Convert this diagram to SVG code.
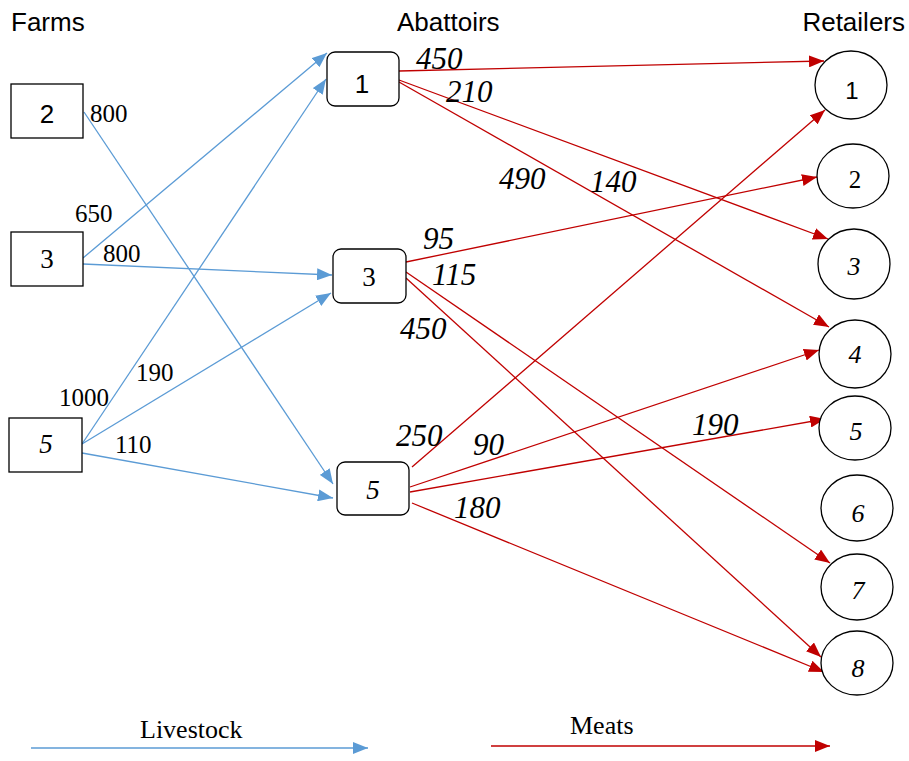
<svg xmlns="http://www.w3.org/2000/svg" width="909" height="761" viewBox="0 0 909 761">
<style>
.bg{fill:#fff}
.box{fill:#fff;stroke:#000;stroke-width:1.3}
.title{font-family:"Liberation Sans",Arial,sans-serif;font-size:26px;fill:#000}
.ns{font-family:"Liberation Sans",Arial,sans-serif;font-size:26px;fill:#000;text-anchor:middle}
.nr{font-family:"Liberation Serif","Times New Roman",serif;font-size:27px;fill:#000;text-anchor:middle}
.ni{font-family:"Liberation Serif","Times New Roman",serif;font-size:27px;font-style:italic;fill:#000;text-anchor:middle}
.rs{font-family:"Liberation Sans",Arial,sans-serif;font-size:24px;fill:#000;text-anchor:middle}
.rr{font-family:"Liberation Serif","Times New Roman",serif;font-size:25px;fill:#000;text-anchor:middle}
.ri{font-family:"Liberation Serif","Times New Roman",serif;font-size:26px;font-style:italic;fill:#000;text-anchor:middle}
.bl{font-family:"Liberation Serif","Times New Roman",serif;font-size:25px;fill:#000}
.rl{font-family:"Liberation Serif","Times New Roman",serif;font-size:31px;font-style:italic;fill:#000}
.leg{font-family:"Liberation Serif","Times New Roman",serif;font-size:26px;fill:#000}
.blue{stroke:#5B9BD5;stroke-width:1.3;fill:none;marker-end:url(#ab)}
.red{stroke:#C00000;stroke-width:1.3;fill:none;marker-end:url(#ar)}
</style>
<defs>
<marker id="ab" markerUnits="userSpaceOnUse" markerWidth="15" markerHeight="12" refX="15" refY="6" orient="auto"><path d="M0,0 L15,6 L0,12 z" fill="#5B9BD5"/></marker>
<marker id="ar" markerUnits="userSpaceOnUse" markerWidth="15" markerHeight="12" refX="15" refY="6" orient="auto"><path d="M0,0 L15,6 L0,12 z" fill="#C00000"/></marker>
</defs>
<rect class="bg" x="0" y="0" width="909" height="761"/>
<g id="titles">
<text class="title" x="11" y="31">Farms</text>
<text class="title" x="397" y="31">Abattoirs</text>
<text class="title" x="905" y="31" text-anchor="end">Retailers</text>
</g>
<g id="connectors">
<line class="blue" x1="84" y1="112" x2="333" y2="484"/>
<line class="blue" x1="83" y1="258" x2="327" y2="53"/>
<line class="blue" x1="83" y1="264" x2="332" y2="275"/>
<line class="blue" x1="82" y1="444" x2="326" y2="79"/>
<line class="blue" x1="82" y1="444" x2="331" y2="293"/>
<line class="blue" x1="82" y1="453" x2="333" y2="498"/>
<line class="red" x1="399" y1="71" x2="824" y2="61"/>
<line class="red" x1="399" y1="80" x2="828" y2="239"/>
<line class="red" x1="399" y1="82" x2="829" y2="327"/>
<line class="red" x1="406" y1="262" x2="817" y2="177"/>
<line class="red" x1="406" y1="272" x2="830" y2="563"/>
<line class="red" x1="406" y1="278" x2="821" y2="657"/>
<line class="red" x1="412" y1="467" x2="825" y2="110"/>
<line class="red" x1="410" y1="487" x2="819" y2="350"/>
<line class="red" x1="410" y1="492" x2="825" y2="419"/>
<line class="red" x1="412" y1="503" x2="824" y2="672"/>
</g>
<g id="labels">
<text class="bl" x="90" y="122">800</text>
<text class="bl" x="75" y="222">650</text>
<text class="bl" x="103" y="262">800</text>
<text class="bl" x="59" y="406">1000</text>
<text class="bl" x="136" y="381">190</text>
<text class="bl" x="115" y="453">110</text>
<text class="rl" x="416" y="69">450</text>
<text class="rl" x="446" y="102">210</text>
<text class="rl" x="499" y="189">490</text>
<text class="rl" x="590" y="192">140</text>
<text class="rl" x="423" y="249">95</text>
<text class="rl" x="432" y="285">115</text>
<text class="rl" x="400" y="339">450</text>
<text class="rl" x="396" y="446">250</text>
<text class="rl" x="473" y="455">90</text>
<text class="rl" x="454" y="518">180</text>
<text class="rl" x="692" y="435">190</text>
</g>
<g id="farm2"><rect class="box" x="11" y="84" width="72" height="54"/><text class="ns" x="47" y="123">2</text></g>
<g id="farm3"><rect class="box" x="11" y="232" width="72" height="54"/><text class="nr" x="47" y="268">3</text></g>
<g id="farm5"><rect class="box" x="9" y="418" width="73" height="54"/><text class="ni" x="46" y="453">5</text></g>
<g id="abattoir1"><rect class="box" x="327" y="52" width="72" height="54" rx="8"/><text class="ns" x="362" y="93">1</text></g>
<g id="abattoir3"><rect class="box" x="333" y="249" width="73" height="54" rx="8"/><text class="nr" x="369" y="286">3</text></g>
<g id="abattoir5"><rect class="box" x="337" y="462" width="72" height="53" rx="8"/><text class="ni" x="373" y="499">5</text></g>
<g id="retailer1"><ellipse class="box" cx="851" cy="85" rx="36" ry="34"/><text class="rs" x="852" y="99">1</text></g>
<g id="retailer2"><ellipse class="box" cx="853" cy="176" rx="36" ry="32"/><text class="rr" x="855" y="188">2</text></g>
<g id="retailer3"><ellipse class="box" cx="854" cy="264" rx="36" ry="35"/><text class="ri" x="854" y="275">3</text></g>
<g id="retailer4"><ellipse class="box" cx="855" cy="354" rx="36" ry="34"/><text class="ri" x="855" y="363">4</text></g>
<g id="retailer5"><ellipse class="box" cx="855" cy="428" rx="36" ry="32"/><text class="ri" x="856" y="440">5</text></g>
<g id="retailer6"><ellipse class="box" cx="857" cy="508" rx="36" ry="33"/><text class="ri" x="858" y="522">6</text></g>
<g id="retailer7"><ellipse class="box" cx="857" cy="587" rx="36" ry="33"/><text class="ri" x="858" y="599">7</text></g>
<g id="retailer8"><ellipse class="box" cx="857" cy="663" rx="36" ry="32"/><text class="ri" x="858" y="677">8</text></g>
<g id="legend">
<text class="leg" x="140" y="738">Livestock</text>
<line class="blue" x1="31" y1="748" x2="368" y2="748"/>
<text class="leg" x="570" y="734">Meats</text>
<line class="red" x1="491" y1="746" x2="830" y2="746"/>
</g>
</svg>
